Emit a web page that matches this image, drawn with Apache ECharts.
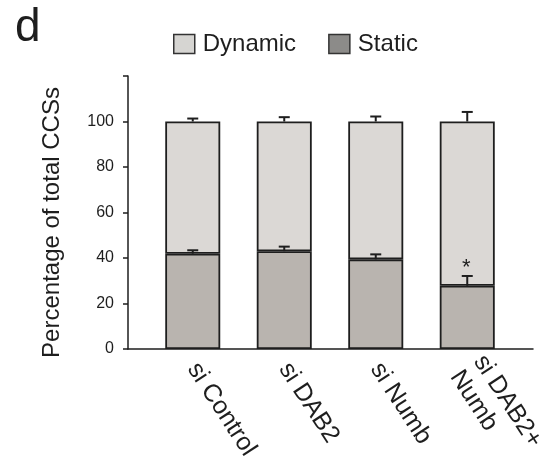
<!DOCTYPE html>
<html>
<head>
<meta charset="utf-8">
<script src="https://cdn.jsdelivr.net/npm/echarts@6/dist/echarts.min.js"></script>
<style>
html,body{margin:0;padding:0;background:#fff;}
#chart{width:539px;height:466px;}
</style>
</head>
<body>
<div id="chart"></div>
<script>
const categories = ['si Control', 'si DAB2', 'si Numb', 'si DAB2+\nNumb'];
const staticVals = [41.9, 43.0, 39.4, 27.8];
const staticErr = [1.5, 2.0, 2.2, 4.3];
const dynamicVals = [58.1, 57.0, 60.6, 72.2];
const dynamicErr = [1.3, 1.9, 2.2, 4.2];
const sigMarks = ['', '', '', '*'];
const yTicks = [0, 20, 40, 60, 80, 100];

const FONT = 'Liberation Sans, Arial, sans-serif';
const INK = '#1e1e1e';

const errData = [];
categories.forEach((c, i) => {
  errData.push([i, staticVals[i], staticErr[i], sigMarks[i]]);
  errData.push([i, staticVals[i] + dynamicVals[i], dynamicErr[i], '']);
});

const chart = echarts.init(document.getElementById('chart'), null, {renderer: 'canvas'});
chart.setOption({
  animation: false,
  backgroundColor: '#fff',
  textStyle: {fontFamily: FONT},
  title: {
    text: 'd', left: 10, top: 0,
    textStyle: {fontSize: 46, fontWeight: 'normal', color: INK, fontFamily: FONT}
  },
  legend: {
    left: 168, top: 27,
    itemWidth: 21, itemHeight: 19, itemGap: 32,
    icon: 'rect',
    textStyle: {fontSize: 24, color: INK, fontFamily: FONT, padding: [0, 0, 0, 3]},
    data: [
      {name: 'Dynamic', itemStyle: {color: '#d6d5d2', borderColor: '#333', borderWidth: 1.5}},
      {name: 'Static', itemStyle: {color: '#8c8b89', borderColor: '#333', borderWidth: 1.5}}
    ]
  },
  grid: [
    {left: 128, right: 6, top: 76, bottom: 117, containLabel: false, outerBoundsMode: 'none'},
    {left: 147, width: 366, top: 76, bottom: 117, containLabel: false, outerBoundsMode: 'none'}
  ],
  xAxis: [
    {
      type: 'value', gridIndex: 0, min: 0, max: 1,
      axisLine: {show: true, lineStyle: {color: INK, width: 1.5}},
      axisTick: {show: false}, axisLabel: {show: false}, splitLine: {show: false}
    },
    {
      type: 'category', gridIndex: 1, data: categories,
      axisLine: {show: false}, axisTick: {show: false},
      axisLabel: {
        interval: 0, rotate: -57, fontSize: 25, color: INK, fontFamily: FONT,
        margin: 16, lineHeight: 28, padding: [18, 0, 0, 0],
        backgroundColor: 'rgba(255,255,255,0)'
      }
    }
  ],
  yAxis: [
    {
      type: 'value', gridIndex: 0, min: 0, max: 120, interval: 20,
      name: 'Percentage of total CCSs', nameLocation: 'middle', nameGap: 64,
      nameTextStyle: {fontSize: 24, color: INK, fontFamily: FONT, padding: [0, 20, 0, 0]},
      axisLine: {show: true, lineStyle: {color: INK, width: 1.5}},
      axisTick: {show: true, length: 5, lineStyle: {color: INK, width: 1.5}},
      axisLabel: {
        fontSize: 16, color: INK, fontFamily: FONT, margin: 14,
        formatter: v => (yTicks.indexOf(v) >= 0 ? String(v) : '')
      },
      splitLine: {show: false}
    },
    {type: 'value', gridIndex: 1, min: 0, max: 120, show: false}
  ],
  series: [
    {
      name: 'Static', type: 'bar', stack: 'total', xAxisIndex: 1, yAxisIndex: 1,
      barWidth: 55, data: staticVals,
      itemStyle: {color: '#b9b4af', borderColor: INK, borderWidth: 1.8}
    },
    {
      name: 'Dynamic', type: 'bar', stack: 'total', xAxisIndex: 1, yAxisIndex: 1,
      barWidth: 55, data: dynamicVals,
      itemStyle: {color: '#dbd8d5', borderColor: INK, borderWidth: 1.8}
    },
    {
      name: 'err', type: 'custom', xAxisIndex: 1, yAxisIndex: 1, z: 5,
      data: errData,
      renderItem: function (params, api) {
        const x = api.value(0);
        const base = api.coord([x, api.value(1)]);
        const end = api.coord([x, api.value(1) + api.value(2)]);
        const half = 5.5;
        const children = [
          {type: 'line', shape: {x1: base[0], y1: base[1], x2: end[0], y2: end[1]},
           style: {stroke: INK, lineWidth: 2}},
          {type: 'line', shape: {x1: end[0] - half, y1: end[1], x2: end[0] + half, y2: end[1]},
           style: {stroke: INK, lineWidth: 2}}
        ];
        const mark = errData[params.dataIndex][3];
        if (mark) {
          children.push({type: 'text', style: {text: mark, x: end[0] - 1, y: end[1] + 3,
            align: 'center', verticalAlign: 'bottom', fontSize: 22, fill: INK, fontFamily: FONT}});
        }
        return {type: 'group', children: children};
      }
    }
  ]
});
</script>
</body>
</html>
